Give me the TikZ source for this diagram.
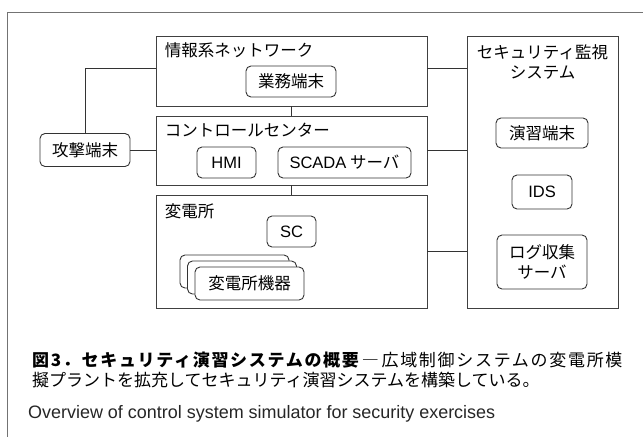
\documentclass[tikz,border=0pt]{standalone}
\usepackage{fontspec}
\usepackage{graphicx}
\setmainfont{Noto Sans CJK JP}
\newfontfamily\latin{Liberation Sans}
\newfontfamily\jpwide[LetterSpace=10]{Noto Sans CJK JP}
\usetikzlibrary{positioning}

\begin{document}
\begin{tikzpicture}[
    x=1pt, y=-1pt,
    % Node styles
    frame/.style={
        draw=black!75, line width=0.9pt, inner sep=0pt,
    },
    term/.style={
        draw=black!80, line width=0.9pt, rounded corners=5pt, fill=white,
        inner sep=0pt, align=center, font=\fontsize{16.5}{19.5}\selectfont,
    },
    title/.style={
        inner sep=0pt, anchor=base west, font=\fontsize{16.5}{19.5}\selectfont,
    },
    capt/.style={
        inner sep=0pt, anchor=base west, font=\fontsize{17}{20}\selectfont,
    },
    % Edge style
    link/.style={
        draw=black!80, line width=0.9pt,
    },
]
\useasboundingbox (0,0) rectangle (643,437);
% outer frame, top and left only
\draw[black!55, line width=1pt] (643,12) -- (7,12) -- (7,437);

% --- Blocks on the left ---
\node[frame, minimum width=271pt, minimum height=70pt] (info) at (291.5,71) {};
\node[frame, minimum width=271pt, minimum height=69pt] (ctrl) at (291.5,150.5) {};
\node[frame, minimum width=271pt, minimum height=113pt] (subst) at (291.5,251.5) {};
\node[title] (infotitle) at ([shift={(9pt,-21pt)}]info.north west) {情報系ネットワーク};
\node[title] (ctrltitle) at ([shift={(9pt,-21pt)}]ctrl.north west) {コントロールセンター};
\node[title] (subttitle) at ([shift={(9pt,-23pt)}]subst.north west) {変電所};

\node[term, minimum width=90pt, minimum height=31pt] (gyomu) at (291,81.5) {業務端末};
\node[term, minimum width=59pt, minimum height=31pt] (hmi) at (226.5,162.5) {\latin HMI};
\node[term, minimum width=133pt, minimum height=31pt] (scada) at (344.5,162.5) {{\latin SCADA} サーバ};
\node[term, minimum width=49pt, minimum height=31pt] (sc) at (291.5,231.5) {\latin SC};
% stacked devices
\node[term, minimum width=109pt, minimum height=33pt] (equipC) at (234.5,271.5) {};
\node[term, minimum width=109pt, minimum height=33pt] (equipB) at (242,277.5) {};
\node[term, minimum width=109pt, minimum height=33pt] (equipA) at (249.5,283.5) {変電所機器};

% --- Attacker ---
\node[term, minimum width=90pt, minimum height=33pt] (attack) at (85,150) {攻撃端末};

% --- Monitoring system ---
\node[frame, minimum width=151pt, minimum height=272pt] (monitor) at (542.5,172) {};
\node[title, anchor=north, align=center] (montitle) at ([yshift=-9pt]monitor.north) {セキュリティ監視\\システム};
\node[term, minimum width=92pt, minimum height=30pt] (ensyu) at (542,133) {演習端末};
\node[term, minimum width=60pt, minimum height=34pt] (ids) at (542,192) {\latin IDS};
\node[term, minimum width=90pt, minimum height=54pt] (logsrv) at (542,262) {ログ収集\\サーバ};

% --- Connectors ---
\draw[link] (attack.north) |- ([yshift=3pt]info.west);
\draw[link] (attack.east) -- (attack.east -| ctrl.west);
\draw[link] (info.south) -- (ctrl.north);
\draw[link] (ctrl.south) -- (subst.north);
\draw[link] ([yshift=3pt]info.east) -- ([yshift=3pt]info.east -| monitor.west);
\draw[link] (ctrl.east) -- (ctrl.east -| monitor.west);
\draw[link] (subst.east) -- (subst.east -| monitor.west);

% --- Caption ---
% first line is spread to the full width
\node[capt] (capline1) at (32,366) {\jpwide{\bfseries 図3．セキュリティ演習システムの概要}\,―\,広域制御システムの変電所模};
\node[capt] (capline2) at (32,386) {擬プラントを拡充してセキュリティ演習システムを構築している。};
\node[capt, text=black!85, font=\latin\fontsize{18}{21}\selectfont] (capline3) at (28,418) {\resizebox{467pt}{\height}{Overview of control system simulator for security exercises}};
\end{tikzpicture}
\end{document}
